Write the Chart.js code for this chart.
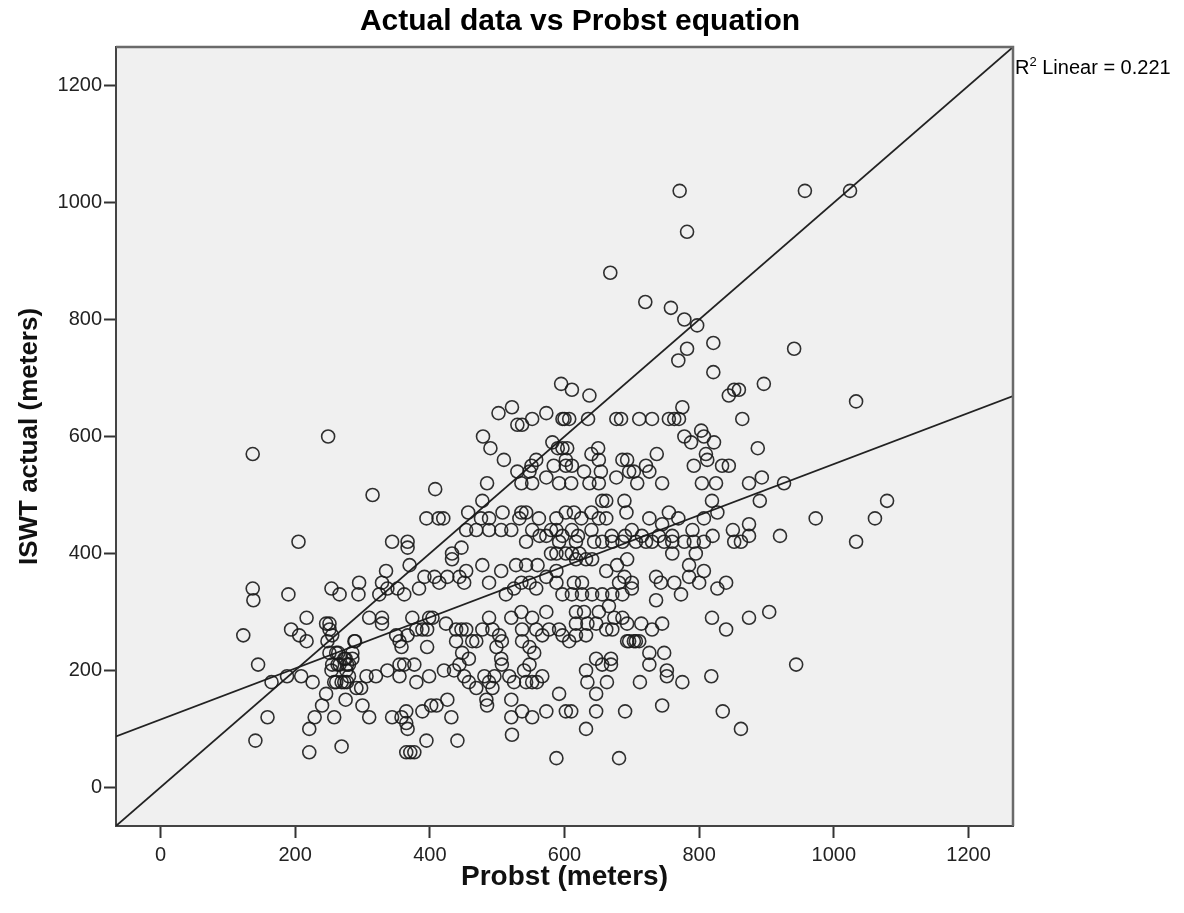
<!DOCTYPE html>
<html>
<head>
<meta charset="utf-8">
<title>Actual data vs Probst equation</title>
<script src="https://cdn.jsdelivr.net/npm/chart.js@4.4.1/dist/chart.umd.min.js"></script>
<style>
  html, body { margin: 0; padding: 0; background: #fff; }
  #wrap { width: 1184px; height: 913px; position: relative; }
</style>
</head>
<body>
<div id="wrap"><canvas id="scatter"></canvas></div>
<script>
const probst = [
  771, 957, 1024, 782, 668, 1033, 1079, 973, 1061, 1033,
  720, 758, 778, 797, 821, 782, 769, 941, 821, 896, 844, 852, 859, 611, 637, 775,
  607, 635, 677, 684, 711, 730, 755, 763, 770, 864, 600,
  803, 778, 788, 807, 822, 887, 810, 812, 792, 834, 844, 737, 650, 640, 651, 654, 629, 686, 693, 696, 703, 721, 726, 677, 708, 745, 804, 825, 874, 893, 926,
  656, 662, 689, 692, 819, 890, 755, 769, 807, 827, 874, 614, 640, 726, 745,
  137, 249, 315, 408, 395, 413, 420, 595, 502, 522, 530, 537, 552, 573, 597, 479, 490, 510, 530, 548, 558, 485, 478, 457, 476, 488, 536, 573, 592, 582, 597, 602,
  590, 604, 551, 584, 602, 611, 536, 552, 610, 637, 651, 508, 533, 543, 562, 588, 602, 625, 651, 662,
  454, 469, 488, 506, 521, 552, 573, 588, 597, 563, 580, 611, 620, 640, 670, 690, 700, 715, 740, 760, 790, 820, 850,
  344, 367, 367, 433, 433, 447, 370, 478, 335, 329, 337, 352, 362, 295, 294, 266, 254, 384, 392, 407, 414, 426, 454, 444, 451, 506, 528, 543, 560, 488, 513, 525, 536, 548, 558, 573, 588, 588, 597, 580, 588, 592, 543, 602, 611, 622,
  251, 255, 261, 273, 280, 266, 255, 285, 276, 261, 273, 291, 298, 254, 280, 288, 310, 329, 329,
  306, 320, 337, 355, 355, 362, 377, 350, 355, 358, 367,
  374, 380, 389, 396, 399, 404, 396, 424, 439, 447, 454, 463, 439, 448, 458, 469, 478, 488, 493, 503, 507, 499, 506,
  521, 536, 552, 558, 537, 573, 577, 592, 597, 567, 548, 537, 555,
  380, 399, 421, 436, 444, 451, 458, 469, 481, 488, 496, 493, 507, 518, 525, 543, 548, 552, 559, 567, 540,
  484, 485, 521, 521, 537, 552, 573, 592, 602, 522, 588,
  258, 269, 300, 310, 344, 358, 365, 367, 365, 389, 402, 410, 426, 432, 395, 441, 365, 377, 371,
  920, 852, 862, 874, 760, 778, 792, 807, 730, 748, 760, 795, 785, 807, 800, 785, 736, 743, 763, 773, 736, 840, 827, 819, 840, 874, 904, 944, 818, 835, 862, 681, 745, 690, 647, 610, 632,
  632, 634, 647, 663, 656, 669, 647, 669, 712, 726, 726, 748, 752, 752, 775, 745, 730, 714, 706, 696, 711,
  617, 644, 656, 671, 686, 706, 721, 617, 632, 641, 662, 678, 693, 689, 700, 700, 681,
  614, 626, 611, 626, 641, 656, 671, 686,
  617, 629, 651, 666, 674, 686, 693, 662, 671, 647, 634, 617, 617, 632, 607, 693, 703,
  205, 137, 138, 190, 123, 145, 165, 188, 209, 226, 159, 141, 221, 221, 229, 240, 246, 275, 217, 194, 206, 217, 246, 251, 248, 251, 264, 275, 285, 263, 277, 258, 269, 277, 289, 325
];
const iswt = [
  1020, 1020, 1020, 950, 880, 660, 490, 460, 460, 420,
  830, 820, 800, 790, 760, 750, 730, 750, 710, 690, 670, 680, 680, 680, 670, 650,
  630, 630, 630, 630, 630, 630, 630, 630, 630, 630, 630,
  610, 600, 590, 600, 590, 580, 570, 560, 550, 550, 550, 570, 580, 570, 560, 540, 540, 560, 560, 540, 540, 550, 540, 530, 520, 520, 520, 520, 520, 530, 520,
  490, 490, 490, 470, 490, 490, 470, 460, 460, 470, 450, 470, 470, 460, 450,
  570, 600, 500, 510, 460, 460, 460, 690, 640, 650, 620, 620, 630, 640, 630, 600, 580, 560, 540, 540, 560, 520, 490, 470, 460, 460, 470, 530, 520, 590, 580, 560,
  580, 580, 550, 550, 550, 550, 520, 520, 520, 520, 520, 470, 460, 470, 460, 460, 470, 460, 460, 460,
  440, 440, 440, 440, 440, 440, 430, 440, 430, 430, 440, 440, 430, 440, 430, 430, 440, 430, 430, 430, 440, 430, 440,
  420, 420, 410, 400, 390, 410, 380, 380, 370, 350, 340, 340, 330, 350, 330, 330, 340, 340, 360, 360, 350, 360, 370, 360, 350, 370, 380, 380, 380, 350, 330, 340, 350, 350, 340, 360, 370, 350, 330, 400, 400, 420, 420, 400, 400, 400,
  280, 260, 230, 220, 210, 210, 210, 230, 200, 180, 180, 170, 170, 200, 190, 250, 290, 290, 280,
  190, 190, 200, 190, 210, 210, 210, 260, 250, 240, 260,
  290, 270, 270, 270, 290, 290, 240, 280, 270, 270, 270, 250, 250, 230, 220, 250, 270, 290, 270, 260, 250, 240, 220,
  290, 300, 290, 270, 270, 300, 270, 270, 260, 260, 240, 250, 230,
  180, 190, 200, 200, 210, 190, 180, 170, 190, 180, 190, 170, 210, 190, 180, 180, 210, 180, 180, 190, 200,
  150, 140, 150, 120, 130, 120, 130, 160, 130, 90, 50,
  120, 70, 140, 120, 120, 120, 110, 100, 130, 130, 140, 140, 150, 120, 80, 80, 60, 60, 60,
  430, 420, 420, 430, 420, 420, 420, 420, 420, 420, 400, 400, 380, 370, 350, 360, 360, 350, 350, 330, 320, 350, 340, 290, 270, 290, 300, 210, 190, 130, 100, 50, 140, 130, 130, 130, 100,
  200, 180, 160, 180, 210, 210, 220, 220, 180, 210, 230, 230, 200, 190, 180, 280, 270, 280, 250, 250, 250,
  420, 420, 420, 420, 420, 420, 420, 390, 390, 390, 370, 380, 390, 360, 350, 340, 350,
  350, 350, 330, 330, 330, 330, 330, 330,
  300, 300, 300, 310, 290, 290, 280, 270, 270, 280, 280, 280, 260, 260, 250, 250, 250,
  420, 340, 320, 330, 260, 210, 180, 190, 190, 180, 120, 80, 100, 60, 120, 140, 160, 150, 290, 270, 260, 250, 280, 270, 250, 230, 230, 220, 220, 210, 210, 180, 180, 180, 250, 330
];

// fit line (R² linear) and the y = x reference, as end points on the axis range
const fitX = [-66, 1266];
const fitY = [87, 669];
const refX = [-66, 1266];
const refY = [-66, 1266];

const axisMin = -66;
const axisMax = 1266;
const tickStep = 200;

const chartTitle = 'Actual data vs Probst equation';
const xTitle = 'Probst (meters)';
const yTitle = 'ISWT actual (meters)';
const r2Value = '0.221';

const family = "'Liberation Sans', Arial, sans-serif";

const points = probst.map((p, i) => ({x: p, y: iswt[i]}));
const fitLine = fitX.map((x, i) => ({x: x, y: fitY[i]}));
const refLine = refX.map((x, i) => ({x: x, y: refY[i]}));

const plotDecor = {
  id: 'plotDecor',
  beforeDraw(chart) {
    const {ctx, chartArea: a} = chart;
    ctx.save();
    ctx.fillStyle = '#ffffff';
    ctx.fillRect(0, 0, chart.width, chart.height);
    ctx.fillStyle = '#f0f0f0';
    ctx.fillRect(a.left, a.top, a.right - a.left, a.bottom - a.top);
    ctx.restore();
  },
  afterDraw(chart) {
    const {ctx, chartArea: a} = chart;
    ctx.save();
    // top and right frame
    ctx.strokeStyle = '#6a6a6a';
    ctx.lineWidth = 2.5;
    ctx.beginPath();
    ctx.moveTo(a.left, a.top);
    ctx.lineTo(a.right, a.top);
    ctx.lineTo(a.right, a.bottom);
    ctx.stroke();

    // chart title
    ctx.fillStyle = '#000';
    ctx.textAlign = 'center';
    ctx.textBaseline = 'middle';
    ctx.font = 'bold 30px ' + family;
    ctx.fillText(chartTitle, 580, 22);

    // R² label next to the top right corner
    ctx.textAlign = 'left';
    ctx.textBaseline = 'alphabetic';
    let x = a.right + 2;
    const base = 74;
    ctx.font = '20px ' + family;
    ctx.fillText('R', x, base);
    x += ctx.measureText('R').width;
    ctx.font = '13px ' + family;
    ctx.fillText('2', x, base - 8);
    x += ctx.measureText('2').width;
    ctx.font = '20px ' + family;
    ctx.fillText(' Linear = ' + r2Value, x, base);
    ctx.restore();
  }
};

new Chart(document.getElementById('scatter'), {
  type: 'scatter',
  data: {
    datasets: [
      {
        label: 'ISWT',
        data: points,
        pointStyle: 'circle',
        pointRadius: 6.5,
        pointBorderWidth: 1.6,
        pointBorderColor: 'rgba(25,25,25,0.9)',
        pointBackgroundColor: 'rgba(0,0,0,0)',
        order: 1
      },
      {
        type: 'line',
        label: 'fit',
        data: fitLine,
        borderColor: '#222',
        borderWidth: 1.7,
        pointRadius: 0,
        fill: false,
        order: 2
      },
      {
        type: 'line',
        label: 'reference',
        data: refLine,
        borderColor: '#222',
        borderWidth: 1.7,
        pointRadius: 0,
        fill: false,
        order: 3
      }
    ]
  },
  options: {
    responsive: true,
    maintainAspectRatio: false,
    animation: false,
    layout: { padding: { top: 47, right: 171, left: 0, bottom: 0 } },
    plugins: {
      legend: { display: false },
      tooltip: { enabled: false },
      title: { display: false }
    },
    scales: {
      x: {
        type: 'linear',
        min: axisMin,
        max: axisMax,
        afterFit(scale) { scale.height = 87; },
        ticks: {
          stepSize: tickStep,
          includeBounds: false,
          color: '#222',
          font: { size: 20, family: family },
          padding: 5,
          maxRotation: 0,
          callback: v => String(v)
        },
        grid: { drawOnChartArea: false, drawTicks: true, tickLength: 12, tickColor: '#333', tickWidth: 2 },
        border: { display: true, color: '#444', width: 2 },
        title: {
          display: true,
          text: xTitle,
          color: '#111',
          font: { size: 28, weight: 'bold', family: family },
          padding: { top: 0, bottom: 19 }
        }
      },
      y: {
        type: 'linear',
        min: axisMin,
        max: axisMax,
        afterFit(scale) { scale.width = 116; },
        ticks: {
          stepSize: tickStep,
          includeBounds: false,
          color: '#222',
          font: { size: 20, family: family },
          padding: 2,
          callback: v => String(v)
        },
        grid: { drawOnChartArea: false, drawTicks: true, tickLength: 12, tickColor: '#333', tickWidth: 2 },
        border: { display: true, color: '#444', width: 2 },
        title: {
          display: true,
          text: yTitle,
          color: '#111',
          font: { size: 26, weight: 'bold', family: family },
          padding: { top: 14, bottom: 0 }
        }
      }
    }
  },
  plugins: [plotDecor]
});
</script>
</body>
</html>
